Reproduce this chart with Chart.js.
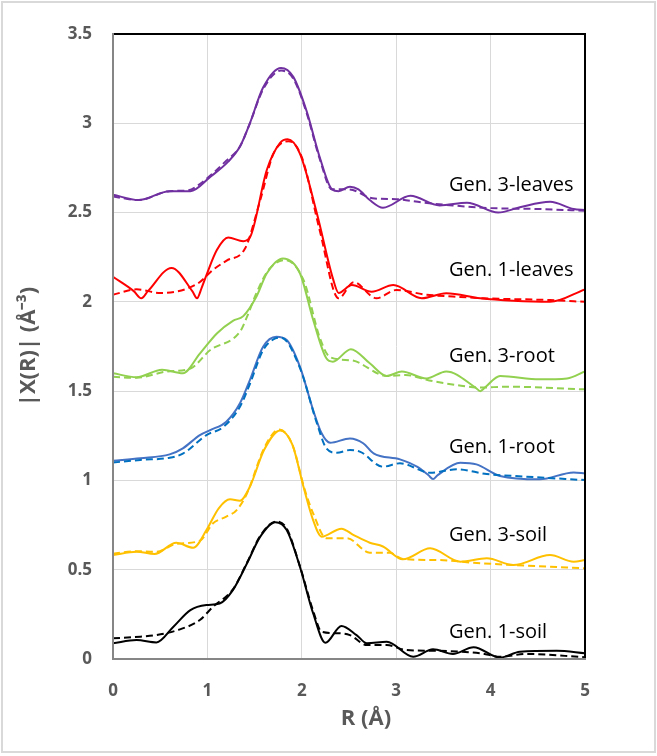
<!DOCTYPE html>
<html>

<head>
	<meta charset="UTF-8">
	<script src="https://cdn.jsdelivr.net/npm/chart.js@4/dist/chart.umd.min.js"></script>
	<style>
		html, body { margin: 0; padding: 0; background: #ffffff; }
		#wrap { width: 657px; height: 756px; position: relative; }
	</style>
</head>

<body>
	<div id="wrap">
		<canvas id="exafsChart" width="657" height="756"></canvas>
	</div>

	<script>
		// 샘플 이름 (라벨)
		var sampleNames = ['Gen. 3-leaves', 'Gen. 1-leaves', 'Gen. 3-root', 'Gen. 1-root', 'Gen. 3-soil', 'Gen. 1-soil'];
		var labelX = [3.56, 3.56, 3.56, 3.56, 3.56, 3.56];
		var labelY = [2.654, 2.178, 1.697, 1.187, 0.694, 0.151];

		var xTicks = [0, 1, 2, 3, 4, 5];
		var yTicks = [0, 0.5, 1, 1.5, 2, 2.5, 3, 3.5];

		// 실험값 (실선) / 피팅값 (점선) : [R, |X(R)|]
		var leaves3 = [[0, 2.60], [0.27, 2.57], [0.6, 2.62], [0.82, 2.62], [1.03, 2.70], [1.22, 2.785], [1.345, 2.87], [1.45, 3.0], [1.59, 3.20], [1.78, 3.31], [1.91, 3.26], [2.05, 3.07], [2.19, 2.81], [2.32, 2.63], [2.39, 2.62], [2.51, 2.645], [2.6, 2.63], [2.72, 2.57], [2.86, 2.527], [3.15, 2.594], [3.46, 2.54], [3.75, 2.555], [4.08, 2.50], [4.31, 2.53], [4.63, 2.56], [4.88, 2.52], [5.0, 2.515]];
		var leaves3Fit = [[0, 2.59], [0.27, 2.57], [0.6, 2.62], [0.8, 2.625], [0.92, 2.66], [1.2, 2.79], [1.345, 2.87], [1.45, 3.0], [1.59, 3.19], [1.78, 3.295], [1.91, 3.25], [2.05, 3.06], [2.19, 2.80], [2.32, 2.63], [2.5, 2.63], [2.75, 2.58], [3.0, 2.575], [3.3, 2.555], [3.6, 2.54], [4.0, 2.525], [4.5, 2.52], [5.0, 2.51]];

		var leaves1 = [[0, 2.14], [0.22, 2.06], [0.30, 2.02], [0.37, 2.06], [0.62, 2.19], [0.84, 2.06], [0.89, 2.02], [0.94, 2.08], [0.99, 2.15], [1.10, 2.29], [1.22, 2.36], [1.38, 2.34], [1.45, 2.36], [1.63, 2.74], [1.77, 2.89], [1.85, 2.91], [1.98, 2.83], [2.16, 2.495], [2.33, 2.13], [2.39, 2.05], [2.53, 2.094], [2.74, 2.057], [2.97, 2.094], [3.27, 2.02], [3.53, 2.048], [3.89, 2.02], [4.24, 2.006], [4.63, 2.0], [5.0, 2.07]];
		var leaves1Fit = [[0, 2.04], [0.25, 2.07], [0.5, 2.05], [0.89, 2.10], [1.06, 2.18], [1.2, 2.23], [1.40, 2.30], [1.56, 2.57], [1.70, 2.83], [1.86, 2.90], [2.0, 2.81], [2.19, 2.40], [2.39, 2.02], [2.55, 2.11], [2.79, 2.02], [3.0, 2.066], [3.32, 2.04], [3.6, 2.03], [3.93, 2.02], [4.63, 2.01], [5.0, 2.0]];

		var root3 = [[0, 1.60], [0.25, 1.578], [0.52, 1.62], [0.74, 1.60], [0.92, 1.71], [1.10, 1.823], [1.27, 1.894], [1.38, 1.92], [1.52, 2.03], [1.63, 2.16], [1.80, 2.243], [1.98, 2.16], [2.12, 1.90], [2.26, 1.684], [2.33, 1.665], [2.52, 1.735], [2.72, 1.656], [2.90, 1.585], [3.06, 1.61], [3.32, 1.571], [3.53, 1.61], [3.84, 1.52], [3.89, 1.50], [3.94, 1.52], [4.1, 1.585], [4.52, 1.566], [4.81, 1.571], [5.0, 1.61]];
		var root3Fit = [[0, 1.58], [0.25, 1.575], [0.57, 1.61], [0.82, 1.627], [1.03, 1.73], [1.345, 1.833], [1.42, 1.917], [1.52, 2.05], [1.65, 2.18], [1.82, 2.234], [2.02, 2.12], [2.19, 1.80], [2.30, 1.69], [2.53, 1.672], [2.9, 1.585], [3.1, 1.59], [3.35, 1.56], [3.64, 1.534], [3.89, 1.52], [4.18, 1.525], [5.0, 1.51]];

		var root1 = [[0, 1.11], [0.29, 1.124], [0.6, 1.146], [0.74, 1.18], [0.92, 1.254], [1.03, 1.282], [1.20, 1.329], [1.345, 1.432], [1.45, 1.562], [1.59, 1.749], [1.73, 1.805], [1.84, 1.786], [1.98, 1.637], [2.12, 1.394], [2.21, 1.264], [2.30, 1.211], [2.51, 1.235], [2.65, 1.208], [2.76, 1.152], [3.04, 1.118], [3.22, 1.077], [3.34, 1.03], [3.39, 1.008], [3.44, 1.03], [3.68, 1.099], [3.85, 1.09], [4.1, 1.025], [4.52, 1.006], [4.88, 1.045], [5.0, 1.04]];
		var root1Fit = [[0, 1.10], [0.29, 1.115], [0.6, 1.127], [0.74, 1.15], [0.99, 1.254], [1.17, 1.30], [1.345, 1.413], [1.45, 1.54], [1.59, 1.73], [1.72, 1.795], [1.78, 1.80], [1.98, 1.63], [2.16, 1.32], [2.26, 1.18], [2.37, 1.155], [2.51, 1.17], [2.62, 1.16], [2.86, 1.077], [3.04, 1.096], [3.36, 1.043], [3.64, 1.062], [3.96, 1.036], [4.38, 1.021], [5.0, 1.002]];

		var soil3 = [[0, 0.582], [0.25, 0.601], [0.44, 0.588], [0.67, 0.651], [0.85, 0.623], [0.99, 0.722], [1.12, 0.844], [1.24, 0.894], [1.345, 0.886], [1.45, 0.965], [1.6, 1.17], [1.77, 1.28], [1.9, 1.2], [2.02, 0.96], [2.12, 0.778], [2.21, 0.685], [2.42, 0.73], [2.55, 0.694], [2.72, 0.651], [2.86, 0.63], [3.07, 0.558], [3.36, 0.62], [3.68, 0.545], [3.96, 0.564], [4.24, 0.526], [4.63, 0.582], [4.88, 0.545], [5.0, 0.554]];
		var soil3Fit = [[0, 0.59], [0.25, 0.604], [0.46, 0.60], [0.67, 0.645], [0.92, 0.662], [1.06, 0.76], [1.20, 0.797], [1.31, 0.834], [1.42, 0.928], [1.6, 1.18], [1.76, 1.285], [1.9, 1.2], [2.03, 0.95], [2.12, 0.816], [2.26, 0.676], [2.48, 0.676], [2.72, 0.595], [2.93, 0.595], [3.07, 0.56], [3.46, 0.554], [3.82, 0.539], [4.24, 0.526], [5.0, 0.508]];

		var soil1 = [[0, 0.088], [0.25, 0.106], [0.46, 0.093], [0.64, 0.181], [0.82, 0.274], [0.99, 0.302], [1.13, 0.311], [1.27, 0.386], [1.42, 0.536], [1.56, 0.685], [1.72, 0.766], [1.84, 0.722], [1.98, 0.517], [2.12, 0.256], [2.25, 0.091], [2.42, 0.185], [2.58, 0.134], [2.69, 0.088], [2.90, 0.097], [3.18, 0.013], [3.39, 0.054], [3.60, 0.028], [3.82, 0.066], [4.1, 0.007], [4.31, 0.041], [4.70, 0.046], [5.0, 0.032]];
		var soil1Fit = [[0, 0.116], [0.29, 0.125], [0.46, 0.134], [0.71, 0.166], [0.92, 0.218], [1.06, 0.293], [1.27, 0.39], [1.42, 0.54], [1.56, 0.69], [1.73, 0.77], [1.84, 0.73], [1.98, 0.52], [2.12, 0.27], [2.21, 0.153], [2.40, 0.144], [2.51, 0.134], [2.69, 0.078], [2.90, 0.078], [3.11, 0.05], [3.42, 0.046], [3.89, 0.032], [4.1, 0.013], [4.38, 0.028], [5.0, 0.01]];

		var textGray = '#595959';

		function toPoints(arr) {
			return arr.map(function (p) { return { x: p[0], y: p[1] }; });
		}

		function makeSet(name, arr, color, dashed) {
			return {
				label: name,
				data: toPoints(arr),
				borderColor: color,
				borderWidth: 2,
				borderDash: dashed ? [7, 4] : [],
				pointRadius: 0,
				fill: false,
				cubicInterpolationMode: 'monotone'
			};
		}

		// 곡선 옆 텍스트 라벨 + x축 제목
		var curveLabelPlugin = {
			id: 'curveLabels',
			afterDatasetsDraw: function (chart) {
				var ctx = chart.ctx;
				var xs = chart.scales.x;
				var ys = chart.scales.y;
				ctx.save();
				ctx.font = '20px "Open Sans"';
				ctx.fillStyle = '#000000';
				ctx.textAlign = 'left';
				ctx.textBaseline = 'middle';
				for (var i = 0; i < sampleNames.length; i++) {
					ctx.fillText(sampleNames[i], xs.getPixelForValue(labelX[i]), ys.getPixelForValue(labelY[i]));
				}
				// x축 제목 (엑셀 원본처럼 약간 오른쪽)
				ctx.font = 'bold 22px "Open Sans"';
				ctx.fillStyle = textGray;
				ctx.textAlign = 'center';
				ctx.fillText('R (Å)', (xs.left + xs.right) / 2 + 17, xs.bottom - 37);
				ctx.restore();
			}
		};

		// 플롯 테두리 + 바깥 테두리
		var framePlugin = {
			id: 'frame',
			beforeDraw: function (chart) {
				var ctx = chart.ctx;
				ctx.save();
				ctx.fillStyle = '#ffffff';
				ctx.fillRect(0, 0, chart.width, chart.height);
				ctx.strokeStyle = '#d9d9d9';
				ctx.lineWidth = 2;
				ctx.strokeRect(2, 2, chart.width - 4, chart.height - 6);
				ctx.restore();
			},
			afterDraw: function (chart) {
				var a = chart.chartArea;
				var ctx = chart.ctx;
				ctx.save();
				ctx.strokeStyle = '#000000';
				ctx.lineWidth = 2;
				ctx.beginPath();
				ctx.moveTo(a.left, a.top);
				ctx.lineTo(a.right, a.top);
				ctx.lineTo(a.right, a.bottom);
				ctx.stroke();
				ctx.strokeStyle = '#868686';
				ctx.beginPath();
				ctx.moveTo(a.left, a.top - 1);
				ctx.lineTo(a.left, a.bottom);
				ctx.lineTo(a.right + 1, a.bottom);
				ctx.stroke();
				ctx.restore();
			}
		};

		var ctx = document.getElementById('exafsChart').getContext('2d');
		var myChart = new Chart(ctx, {
			type: 'line',
			data: {
				datasets: [
					makeSet('Gen. 3-leaves fit', leaves3Fit, '#7030A0', true),
					makeSet('Gen. 3-leaves', leaves3, '#7030A0', false),
					makeSet('Gen. 1-leaves fit', leaves1Fit, '#FF0000', true),
					makeSet('Gen. 1-leaves', leaves1, '#FF0000', false),
					makeSet('Gen. 3-root fit', root3Fit, '#92D050', true),
					makeSet('Gen. 3-root', root3, '#92D050', false),
					makeSet('Gen. 1-root fit', root1Fit, '#0070C0', true),
					makeSet('Gen. 1-root', root1, '#4472C4', false),
					makeSet('Gen. 3-soil fit', soil3Fit, '#FFC000', true),
					makeSet('Gen. 3-soil', soil3, '#FFC000', false),
					makeSet('Gen. 1-soil fit', soil1Fit, '#000000', true),
					makeSet('Gen. 1-soil', soil1, '#000000', false)
				]
			},
			options: {
				responsive: false,
				animation: false,
				devicePixelRatio: 1,
				layout: {
					padding: { top: 34, right: 72, left: 0, bottom: 0 }
				},
				plugins: {
					legend: { display: false },
					tooltip: { enabled: false }
				},
				scales: {
					x: {
						type: 'linear',
						min: 0,
						max: 5,
						afterFit: function (scale) { scale.height = 97; },
						afterBuildTicks: function (scale) {
							scale.ticks = xTicks.map(function (v) { return { value: v }; });
						},
						grid: { color: '#d9d9d9', lineWidth: 1, drawTicks: false },
						border: { display: false },
						ticks: {
							padding: 22,
							color: textGray,
							font: { family: 'Open Sans', size: 17, weight: 'bold' },
							callback: function (v) { return String(v); }
						}
					},
					y: {
						type: 'linear',
						min: 0,
						max: 3.5,
						afterFit: function (scale) { scale.width = 113; },
						afterBuildTicks: function (scale) {
							scale.ticks = yTicks.map(function (v) { return { value: v }; });
						},
						grid: { color: '#d9d9d9', lineWidth: 1, drawTicks: false },
						border: { display: false },
						ticks: {
							padding: 21,
							color: textGray,
							font: { family: 'Open Sans', size: 17, weight: 'bold' },
							callback: function (v) { return String(v); }
						},
						title: {
							display: true,
							text: '|X(R)| (Å⁻³)',
							color: textGray,
							padding: { top: 16 },
							font: { family: 'Open Sans', size: 22, weight: 'bold' }
						}
					}
				}
			},
			plugins: [framePlugin, curveLabelPlugin]
		});
	</script>
</body>

</html>
